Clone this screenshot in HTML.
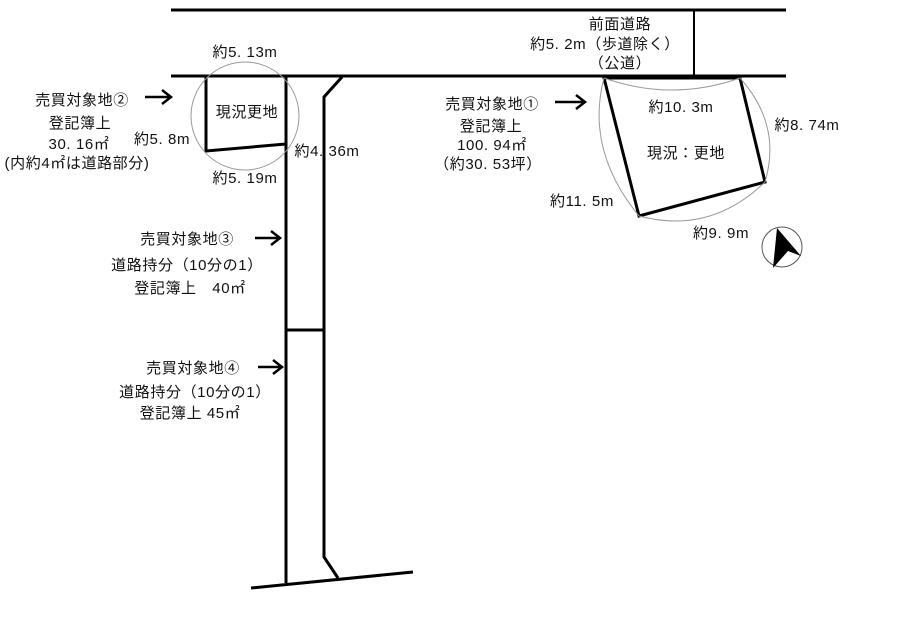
<!DOCTYPE html>
<html><head><meta charset="utf-8"><style>
html,body{margin:0;padding:0;background:#fff;}
svg{display:block;}
text{font-family:"Liberation Sans","Noto Sans CJK JP",sans-serif;font-size:15px;fill:#111;letter-spacing:0.6px;}
</style></head><body>
<svg width="917" height="628" viewBox="0 0 917 628" xmlns="http://www.w3.org/2000/svg">
<g stroke="#000" stroke-width="3" fill="none">
<line x1="171" y1="10" x2="786" y2="10"/>
<line x1="171" y1="76" x2="786" y2="76"/>
<line x1="694" y1="10" x2="694" y2="76" stroke-width="2"/>
<polyline points="206,77 206,151 286,144"/>
<line x1="286" y1="76" x2="286" y2="583"/>
<polyline points="342,77 324,97 324,557 338,578"/>
<line x1="251" y1="588" x2="413" y2="572"/>
<line x1="286" y1="330" x2="324" y2="330"/>
<polygon points="604,78 740,78 765,182 639,216"/>
</g>
<g stroke="#999" stroke-width="1" fill="none">
<circle cx="245" cy="116" r="54"/>
<path d="M604,78 Q672,102 740,78"/>
<path d="M604,78 Q585,150 639,216"/>
<path d="M639,216 Q710,235 765,182"/>
<path d="M740,78 Q782,125 765,182"/>
</g>
<circle cx="782" cy="247" r="20" fill="none" stroke="#555" stroke-width="1"/>
<polygon points="777,228 801,256 788,251 773,268" fill="#000"/>
<g stroke="#000" stroke-width="2.5" fill="none">
<path d="M145,97 H170 M162,90 L171,97 L162,104"/>
<path d="M255,238 H279 M271,231 L280,238 L271,245"/>
<path d="M258,367 H281 M273,360 L282,367 L273,374"/>
<path d="M555,102 H584 M576,95 L585,102 L576,109"/>
</g>
<g text-anchor="middle">
<text x="82" y="105">売買対象地②</text>
<text x="80" y="128">登記簿上</text>
<text x="79" y="149">30. 16㎡</text>
<text x="77" y="168">(内約4㎡は道路部分)</text>
<text x="245" y="57">約5. 13m</text>
<text x="247" y="117">現況更地</text>
<text x="162" y="144">約5. 8m</text>
<text x="245" y="183">約5. 19m</text>
<text x="327" y="156">約4. 36m</text>
<text x="187" y="244">売買対象地③</text>
<text x="187" y="270">道路持分（10分の1）</text>
<text x="190" y="293">登記簿上　40㎡</text>
<text x="193" y="373">売買対象地④</text>
<text x="195" y="397">道路持分（10分の1）</text>
<text x="190" y="418">登記簿上 45㎡</text>
<text x="620" y="29">前面道路</text>
<text x="605" y="49">約5. 2m（歩道除く）</text>
<text x="620" y="68">（公道）</text>
<text x="492" y="109">売買対象地①</text>
<text x="491" y="131">登記簿上</text>
<text x="492" y="150">100. 94㎡</text>
<text x="488" y="169">（約30. 53坪）</text>
<text x="681" y="112">約10. 3m</text>
<text x="807" y="130">約8. 74m</text>
<text x="686" y="158">現況：更地</text>
<text x="582" y="206">約11. 5m</text>
<text x="721" y="238">約9. 9m</text>
</g>
</svg>
</body></html>
